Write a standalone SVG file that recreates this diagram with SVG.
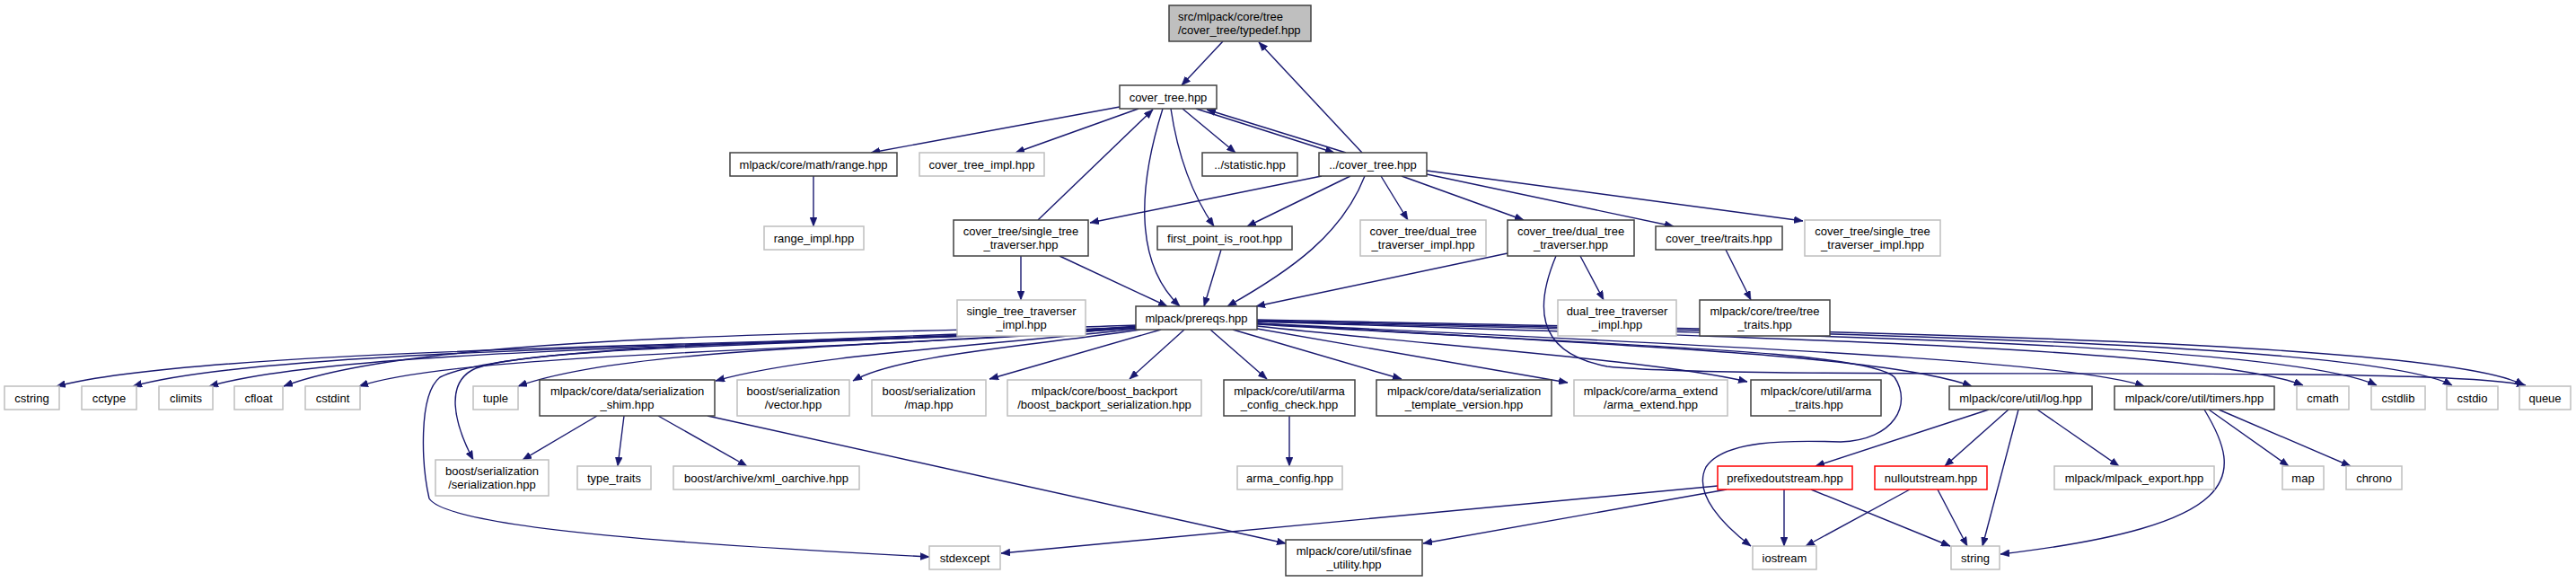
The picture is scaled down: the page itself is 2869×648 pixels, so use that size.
<svg xmlns="http://www.w3.org/2000/svg" width="2869" height="648" viewBox="0 0 2869 648">
<style>
rect{fill:#ffffff;stroke-width:1.5}
.doc{stroke:#404040}
.ext{stroke:#bfbfbf}
.trunc{stroke:#ff0000}
.root{fill:#bfbfbf;stroke:#404040}
text{font-family:"Liberation Sans",Arial,Helvetica,sans-serif;font-size:13px;fill:#000000;text-anchor:middle}
.edges path{fill:none;stroke:#191970;stroke-width:1.4;marker-end:url(#ah)}
</style>
<defs>
<marker id="ah" markerUnits="userSpaceOnUse" markerWidth="11" markerHeight="8" refX="10" refY="4" orient="auto">
<path d="M0,0 L10,4 L0,8 z" fill="#191970" stroke="#191970" stroke-width="0.5"/>
</marker>
</defs>
<rect x="0" y="0" width="2869" height="648" style="fill:#ffffff;stroke:none"/>
<g class="edges" id="edges">
<path d="M1362,46 L1316,95"/>
<path d="M1517,170 L1402,47"/>
<path d="M1247,119 L970,170"/>
<path d="M1268,121 L1131,170"/>
<path d="M1317,121 L1376,170"/>
<path d="M1332,121 L1486,170"/>
<path d="M1499,170 L1344,122"/>
<path d="M1304,121 C1312,175 1330,220 1352,252"/>
<path d="M1295,121 C1270,200 1260,290 1314,341"/>
<path d="M1472,196 L1214,248"/>
<path d="M1156,245 L1284,122"/>
<path d="M1504,196 L1389,252"/>
<path d="M1538,196 L1568,245"/>
<path d="M1561,196 L1697,245"/>
<path d="M1589,194 L1864,252"/>
<path d="M1589,190 L2008,246"/>
<path d="M1520,196 C1495,260 1440,300 1367,341"/>
<path d="M1137,285 L1137,334"/>
<path d="M1180,285 L1300,341"/>
<path d="M1360,278 L1341,341"/>
<path d="M1679,282 L1399,341"/>
<path d="M1760,285 L1786,334"/>
<path d="M1733,285 C1712,335 1705,392 1790,408 C1950,425 2700,405 2813,429"/>
<path d="M1922,278 L1950,334"/>
<path d="M906,196 L906,252"/>
<path d="M1268,363 C1000,385 250,382 63,430"/>
<path d="M1268,364 C1000,385 320,382 148,430"/>
<path d="M1268,364 C1000,385 400,382 233,430"/>
<path d="M1268,362 C1000,372 480,368 316,430"/>
<path d="M1268,364 C1000,390 520,390 400,430"/>
<path d="M1266,365 C1000,386 700,386 577,430"/>
<path d="M1266,366 C1100,385 900,395 797,424"/>
<path d="M1270,367 C1150,385 1000,395 950,424"/>
<path d="M1293,367 L1102,422"/>
<path d="M1319,367 L1258,422"/>
<path d="M1348,367 L1411,422"/>
<path d="M1373,367 L1561,422"/>
<path d="M1400,366 L1746,426"/>
<path d="M1400,363 C1600,385 1850,402 1946,425"/>
<path d="M1266,364 C900,385 600,385 530,410 C495,425 505,470 527,512"/>
<path d="M1266,364 C900,380 560,385 490,420 C465,440 470,520 478,555 C500,590 800,608 1035,620"/>
<path d="M1400,360 C1800,385 2100,395 2196,430"/>
<path d="M1400,360 C1900,385 2300,400 2388,430"/>
<path d="M1400,358 C1900,375 2450,385 2565,429"/>
<path d="M1400,358 C2000,372 2550,383 2647,429"/>
<path d="M1400,357 C2000,370 2640,380 2731,429"/>
<path d="M1400,356 C2000,368 2720,378 2811,429"/>
<path d="M1400,361 C1800,385 2080,390 2110,420 C2130,450 2110,490 2050,492 C1990,490 1920,490 1900,520 C1885,550 1920,585 1950,608"/>
<path d="M1436,463 L1436,519"/>
<path d="M665,463 L582,512"/>
<path d="M695,463 L688,519"/>
<path d="M733,463 L832,519"/>
<path d="M788,463 L1432,605"/>
<path d="M2215,456 L2022,519"/>
<path d="M2237,456 L2166,519"/>
<path d="M2248,456 L2208,608"/>
<path d="M2269,456 L2360,519"/>
<path d="M2460,456 L2549,519"/>
<path d="M2471,456 L2618,519"/>
<path d="M2455,456 C2500,530 2500,585 2228,617"/>
<path d="M1987,545 L1987,608"/>
<path d="M2017,545 L2172,608"/>
<path d="M1913,541 L1115,616"/>
<path d="M1923,545 L1585,605"/>
<path d="M2127,545 L2011,608"/>
<path d="M2158,545 L2191,608"/>
</g>
<g id="n_typedef"><rect class="root" x="1302" y="6" width="158" height="40"/><text x="1312" y="23" style="text-anchor:start">src/mlpack/core/tree</text><text x="1312" y="38" style="text-anchor:start">/cover_tree/typedef.hpp</text></g>
<g id="n_cover_tree"><rect class="doc" x="1247" y="95" width="108" height="26"/><text x="1301" y="112.5">cover_tree.hpp</text></g>
<g id="n_range"><rect class="doc" x="813" y="170" width="186" height="26"/><text x="906" y="187.5">mlpack/core/math/range.hpp</text></g>
<g id="n_cover_tree_impl"><rect class="ext" x="1024" y="170" width="139" height="26"/><text x="1093.5" y="187.5">cover_tree_impl.hpp</text></g>
<g id="n_statistic"><rect class="doc" x="1339" y="170" width="106" height="26"/><text x="1392" y="187.5">../statistic.hpp</text></g>
<g id="n_up_cover_tree"><rect class="doc" x="1469" y="170" width="120" height="26"/><text x="1529" y="187.5">../cover_tree.hpp</text></g>
<g id="n_range_impl"><rect class="ext" x="851" y="252" width="111" height="26"/><text x="906.5" y="269.5">range_impl.hpp</text></g>
<g id="n_single_trav"><rect class="doc" x="1062" y="245" width="150" height="40"/><text x="1137" y="262">cover_tree/single_tree</text><text x="1137" y="277">_traverser.hpp</text></g>
<g id="n_first_point"><rect class="doc" x="1289" y="252" width="150" height="26"/><text x="1364" y="269.5">first_point_is_root.hpp</text></g>
<g id="n_dual_impl"><rect class="ext" x="1515" y="245" width="140" height="40"/><text x="1585" y="262">cover_tree/dual_tree</text><text x="1585" y="277">_traverser_impl.hpp</text></g>
<g id="n_dual_trav"><rect class="doc" x="1679" y="245" width="141" height="40"/><text x="1749.5" y="262">cover_tree/dual_tree</text><text x="1749.5" y="277">_traverser.hpp</text></g>
<g id="n_traits"><rect class="doc" x="1844" y="252" width="141" height="26"/><text x="1914.5" y="269.5">cover_tree/traits.hpp</text></g>
<g id="n_single_impl"><rect class="ext" x="2010" y="245" width="151" height="40"/><text x="2085.5" y="262">cover_tree/single_tree</text><text x="2085.5" y="277">_traverser_impl.hpp</text></g>
<g id="n_single_impl2"><rect class="ext" x="1066" y="334" width="143" height="40"/><text x="1137.5" y="351">single_tree_traverser</text><text x="1137.5" y="366">_impl.hpp</text></g>
<g id="n_prereqs"><rect class="doc" x="1265" y="341" width="135" height="26"/><text x="1332.5" y="358.5">mlpack/prereqs.hpp</text></g>
<g id="n_dual_impl2"><rect class="ext" x="1735" y="334" width="132" height="40"/><text x="1801" y="351">dual_tree_traverser</text><text x="1801" y="366">_impl.hpp</text></g>
<g id="n_tree_traits"><rect class="doc" x="1893" y="334" width="145" height="40"/><text x="1965.5" y="351">mlpack/core/tree/tree</text><text x="1965.5" y="366">_traits.hpp</text></g>
<g id="n_cstring"><rect class="ext" x="5" y="430" width="61" height="26"/><text x="35.5" y="447.5">cstring</text></g>
<g id="n_cctype"><rect class="ext" x="91" y="430" width="61" height="26"/><text x="121.5" y="447.5">cctype</text></g>
<g id="n_climits"><rect class="ext" x="177" y="430" width="60" height="26"/><text x="207" y="447.5">climits</text></g>
<g id="n_cfloat"><rect class="ext" x="261" y="430" width="54" height="26"/><text x="288" y="447.5">cfloat</text></g>
<g id="n_cstdint"><rect class="ext" x="340" y="430" width="61" height="26"/><text x="370.5" y="447.5">cstdint</text></g>
<g id="n_tuple"><rect class="ext" x="527" y="430" width="50" height="26"/><text x="552" y="447.5">tuple</text></g>
<g id="n_shim"><rect class="doc" x="601" y="423" width="195" height="40"/><text x="698.5" y="440">mlpack/core/data/serialization</text><text x="698.5" y="455">_shim.hpp</text></g>
<g id="n_vector"><rect class="ext" x="821" y="423" width="125" height="40"/><text x="883.5" y="440">boost/serialization</text><text x="883.5" y="455">/vector.hpp</text></g>
<g id="n_map_b"><rect class="ext" x="971" y="423" width="127" height="40"/><text x="1034.5" y="440">boost/serialization</text><text x="1034.5" y="455">/map.hpp</text></g>
<g id="n_backport"><rect class="ext" x="1122" y="423" width="216" height="40"/><text x="1230" y="440">mlpack/core/boost_backport</text><text x="1230" y="455">/boost_backport_serialization.hpp</text></g>
<g id="n_arma_check"><rect class="doc" x="1363" y="423" width="146" height="40"/><text x="1436" y="440">mlpack/core/util/arma</text><text x="1436" y="455">_config_check.hpp</text></g>
<g id="n_tmpl_ver"><rect class="doc" x="1533" y="423" width="195" height="40"/><text x="1630.5" y="440">mlpack/core/data/serialization</text><text x="1630.5" y="455">_template_version.hpp</text></g>
<g id="n_arma_extend"><rect class="ext" x="1753" y="423" width="171" height="40"/><text x="1838.5" y="440">mlpack/core/arma_extend</text><text x="1838.5" y="455">/arma_extend.hpp</text></g>
<g id="n_arma_traits"><rect class="doc" x="1950" y="423" width="145" height="40"/><text x="2022.5" y="440">mlpack/core/util/arma</text><text x="2022.5" y="455">_traits.hpp</text></g>
<g id="n_log"><rect class="doc" x="2171" y="430" width="159" height="26"/><text x="2250.5" y="447.5">mlpack/core/util/log.hpp</text></g>
<g id="n_timers"><rect class="doc" x="2355" y="430" width="178" height="26"/><text x="2444" y="447.5">mlpack/core/util/timers.hpp</text></g>
<g id="n_cmath"><rect class="ext" x="2558" y="430" width="58" height="26"/><text x="2587" y="447.5">cmath</text></g>
<g id="n_cstdlib"><rect class="ext" x="2641" y="430" width="60" height="26"/><text x="2671" y="447.5">cstdlib</text></g>
<g id="n_cstdio"><rect class="ext" x="2725" y="430" width="57" height="26"/><text x="2753.5" y="447.5">cstdio</text></g>
<g id="n_queue"><rect class="ext" x="2806" y="430" width="57" height="26"/><text x="2834.5" y="447.5">queue</text></g>
<g id="n_ser"><rect class="ext" x="485" y="512" width="126" height="40"/><text x="548" y="529">boost/serialization</text><text x="548" y="544">/serialization.hpp</text></g>
<g id="n_type_traits"><rect class="ext" x="643" y="519" width="82" height="26"/><text x="684" y="536.5">type_traits</text></g>
<g id="n_xml"><rect class="ext" x="750" y="519" width="207" height="26"/><text x="853.5" y="536.5">boost/archive/xml_oarchive.hpp</text></g>
<g id="n_arma_config"><rect class="ext" x="1378" y="519" width="117" height="26"/><text x="1436.5" y="536.5">arma_config.hpp</text></g>
<g id="n_prefixed"><rect class="trunc" x="1913" y="519" width="150" height="26"/><text x="1988" y="536.5">prefixedoutstream.hpp</text></g>
<g id="n_null"><rect class="trunc" x="2088" y="519" width="125" height="26"/><text x="2150.5" y="536.5">nulloutstream.hpp</text></g>
<g id="n_export"><rect class="ext" x="2288" y="519" width="178" height="26"/><text x="2377" y="536.5">mlpack/mlpack_export.hpp</text></g>
<g id="n_map"><rect class="ext" x="2542" y="519" width="46" height="26"/><text x="2565" y="536.5">map</text></g>
<g id="n_chrono"><rect class="ext" x="2613" y="519" width="62" height="26"/><text x="2644" y="536.5">chrono</text></g>
<g id="n_stdexcept"><rect class="ext" x="1035" y="608" width="79" height="26"/><text x="1074.5" y="625.5">stdexcept</text></g>
<g id="n_sfinae"><rect class="doc" x="1432" y="601" width="152" height="40"/><text x="1508" y="618">mlpack/core/util/sfinae</text><text x="1508" y="633">_utility.hpp</text></g>
<g id="n_iostream"><rect class="ext" x="1952" y="608" width="71" height="26"/><text x="1987.5" y="625.5">iostream</text></g>
<g id="n_string"><rect class="ext" x="2173" y="608" width="54" height="26"/><text x="2200" y="625.5">string</text></g>
</svg>
